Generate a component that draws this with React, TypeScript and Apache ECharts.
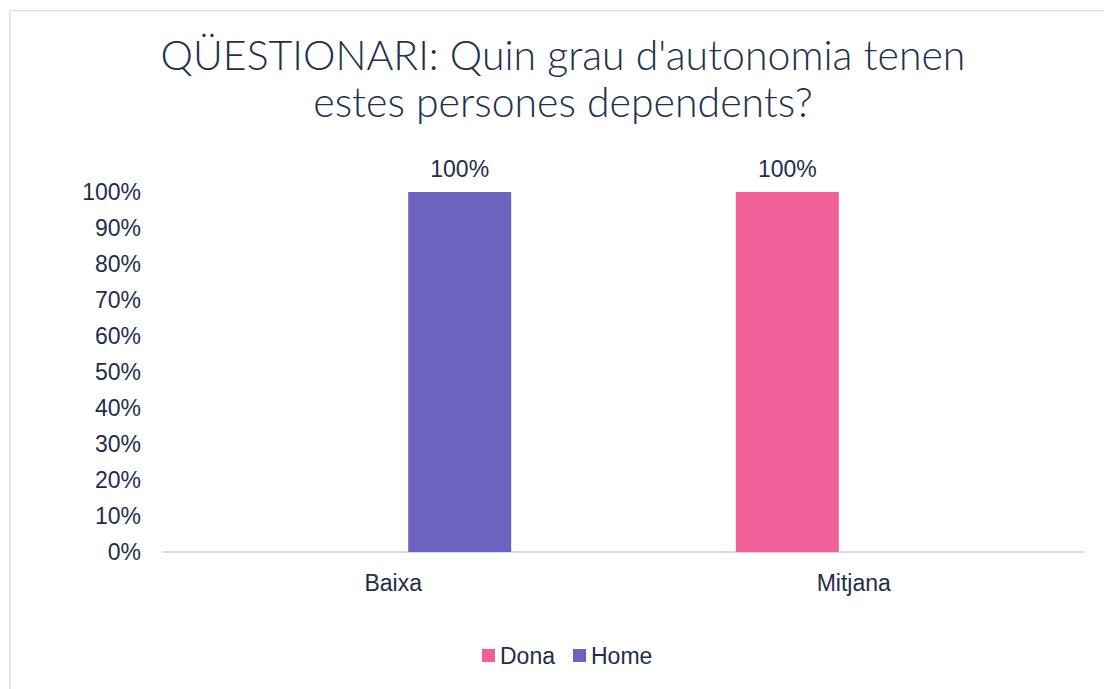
import React, { useEffect, useRef } from "react";
import * as echarts from "echarts";

const categories = ["Baixa", "Mitjana"];
const seriesNames = ["Dona", "Home"];
const donaValues = [0, 1];
const homeValues = [1, 0];
const yTicks = [0, 0.1, 0.2, 0.3, 0.4, 0.5, 0.6, 0.7, 0.8, 0.9, 1];
const titleLines = ["QÜESTIONARI: Quin grau d'autonomia tenen", "estes persones dependents?"];

const colors = ["#F2609A", "#6C63C1"];
const textColor = "#1F2D4A";
const sans = "Liberation Sans, Arial, sans-serif";

export default function App() {
  const ref = useRef<HTMLDivElement>(null);
  useEffect(() => {
    if (!ref.current) return;
    const chart = echarts.init(ref.current, null, { renderer: "svg" });
    const pct = (v: number) => Math.round(v * 100) + "%";
    const labelCfg = {
      show: true,
      position: "top",
      distance: 12,
      color: textColor,
      fontSize: 23,
      fontFamily: sans,
      formatter: (p: any) => (p.value > 0 ? pct(p.value) : ""),
    };
    chart.setOption({
      animation: false,
      color: colors,
      graphic: [
        {
          type: "rect",
          shape: { x: 10, y: 10.5, width: 1110, height: 700 },
          style: { fill: "none", stroke: "#D6E0F0", lineWidth: 1.5 },
          silent: true,
        },
        {
          type: "text",
          x: 563,
          y: 31,
          style: {
            text: titleLines.join("\n"),
            align: "center",
            verticalAlign: "top",
            fontSize: 41,
            fontWeight: 300,
            lineHeight: 47,
            fontFamily: "Lato, sans-serif",
            fill: "#22304B",
          },
        },
      ],
      legend: {
        data: seriesNames,
        bottom: 17,
        left: 477,
        itemWidth: 13,
        itemHeight: 13,
        itemGap: 18,
        icon: "rect",
        textStyle: { color: textColor, fontSize: 23, fontFamily: sans },
      },
      grid: { left: 163, right: 20, top: 192, bottom: 137, containLabel: false },
      xAxis: {
        type: "category",
        data: categories,
        axisLine: { lineStyle: { color: "#D3DDF0", width: 2 } },
        axisTick: { show: false },
        axisLabel: { color: textColor, fontSize: 23, margin: 19, fontFamily: sans },
      },
      yAxis: {
        type: "value",
        min: yTicks[0],
        max: yTicks[yTicks.length - 1],
        interval: 0.1,
        splitLine: { show: false },
        axisLine: { show: false },
        axisTick: { show: false },
        axisLabel: {
          color: textColor,
          fontSize: 23,
          margin: 22,
          fontFamily: sans,
          formatter: (v: number) => pct(v),
        },
      },
      series: [
        { name: seriesNames[0], type: "bar", data: donaValues, barWidth: 103, barGap: "29%", label: labelCfg },
        { name: seriesNames[1], type: "bar", data: homeValues, barWidth: 103, barGap: "29%", label: labelCfg },
      ],
    });
    return () => chart.dispose();
  }, []);
  return <div ref={ref} style={{ position: "fixed", left: 0, top: 0, width: 1104, height: 689, background: "#fff" }} />;
}
